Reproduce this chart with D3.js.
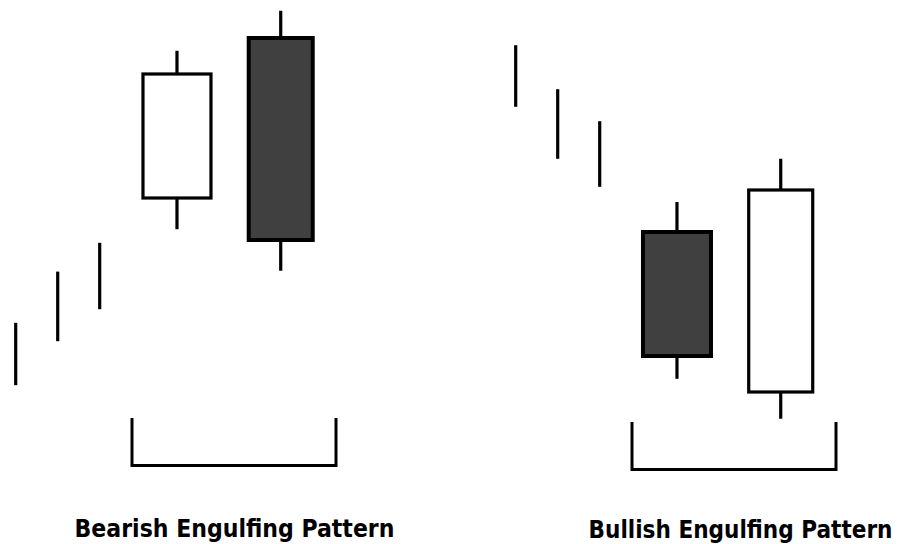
<!DOCTYPE html>
<html>
<head>
<meta charset="utf-8">
<script src="https://cdn.jsdelivr.net/npm/d3@7"></script>
<style>
  body { margin: 0; background: #fff; }
  svg { display: block; }
</style>
</head>
<body>
<svg id="chart" width="900" height="544"></svg>
<script>
// price data (arbitrary price units)
const bearTrend = [
  {day: 0, high: 10.9, low: 3.1},
  {day: 1, high: 17.3, low: 8.6},
  {day: 2, high: 20.9, low: 12.6}
];
const bearCandles = [
  {day: 3.84, open: 26.5, close: 42.0, high: 44.9, low: 22.6},
  {day: 6.31, open: 46.5, close: 21.25, high: 49.9, low: 17.4}
];
const bullTrend = [
  {day: 0, high: 45.6, low: 37.9},
  {day: 1, high: 40.1, low: 31.4},
  {day: 2, high: 36.1, low: 27.9}
];
const bullCandles = [
  {day: 3.84, open: 22.25, close: 6.75, high: 26.0, low: 3.9},
  {day: 6.31, open: 2.25, close: 27.5, high: 31.4, low: -1.1}
];
const labels = ['Bearish Engulfing Pattern', 'Bullish Engulfing Pattern'];

const svg = d3.select('#chart'),
    bodyW = [68, 64];

const y = d3.scaleLinear()
  .domain([0, 50])
  .range([410, 10]);

const x = d3.scaleLinear()
  .domain([0, 10])
  .range([15.7, 435.7]);

const drawPanel = (g, trend, candles, label, bracket, textX, textY, textW) => {
  g.selectAll('.trend')
    .data(trend)
    .join('line')
      .attr('x1', d => x(d.day))
      .attr('x2', d => x(d.day))
      .attr('y1', d => y(d.high))
      .attr('y2', d => y(d.low))
      .attr('stroke', '#000')
      .attr('stroke-width', 3.2);

  const c = g.selectAll('.candle')
    .data(candles)
    .join('g');

  c.append('line')
    .attr('x1', d => x(d.day))
    .attr('x2', d => x(d.day))
    .attr('y1', d => y(d.high))
    .attr('y2', d => y(d.low))
    .attr('stroke', '#000')
    .attr('stroke-width', 3.2);

  c.append('rect')
    .attr('x', (d, i) => x(d.day) - bodyW[i] / 2)
    .attr('width', (d, i) => bodyW[i])
    .attr('y', d => y(Math.max(d.open, d.close)))
    .attr('height', d => Math.abs(y(d.open) - y(d.close)))
    .attr('fill', d => d.close > d.open ? '#fff' : '#404040')
    .attr('stroke', '#000')
    .attr('stroke-width', d => d.close > d.open ? 3.2 : 4);

  // bracket under the two pattern candles
  const [bx0, bx1, by0, by1] = bracket;
  g.append('path')
    .attr('d', `M${bx0},${by0}V${by1}H${bx1}V${by0}`)
    .attr('fill', 'none')
    .attr('stroke', '#000')
    .attr('stroke-width', 3);

  const t = g.append('text')
    .attr('text-anchor', 'middle')
    .attr('font-family', '"DejaVu Sans Condensed", "Liberation Sans Narrow", sans-serif')
    .attr('font-stretch', 'condensed')
    .attr('font-weight', 'bold')
    .attr('font-size', 25)
    .attr('fill', '#000')
    .text(label);

  // squeeze horizontally to the width in the picture
  const sx = textW / t.node().getComputedTextLength();
  t.attr('transform', `translate(${textX},${textY}) scale(${sx},1)`);
};

drawPanel(svg.append('g'), bearTrend, bearCandles, labels[0], [132, 336, 418, 465.5], 234.5, 536.5, 320);
drawPanel(svg.append('g').attr('transform', 'translate(500,0)'), bullTrend, bullCandles, labels[1], [132, 336, 422, 469.5], 240.5, 537.5, 304);
</script>
</body>
</html>
